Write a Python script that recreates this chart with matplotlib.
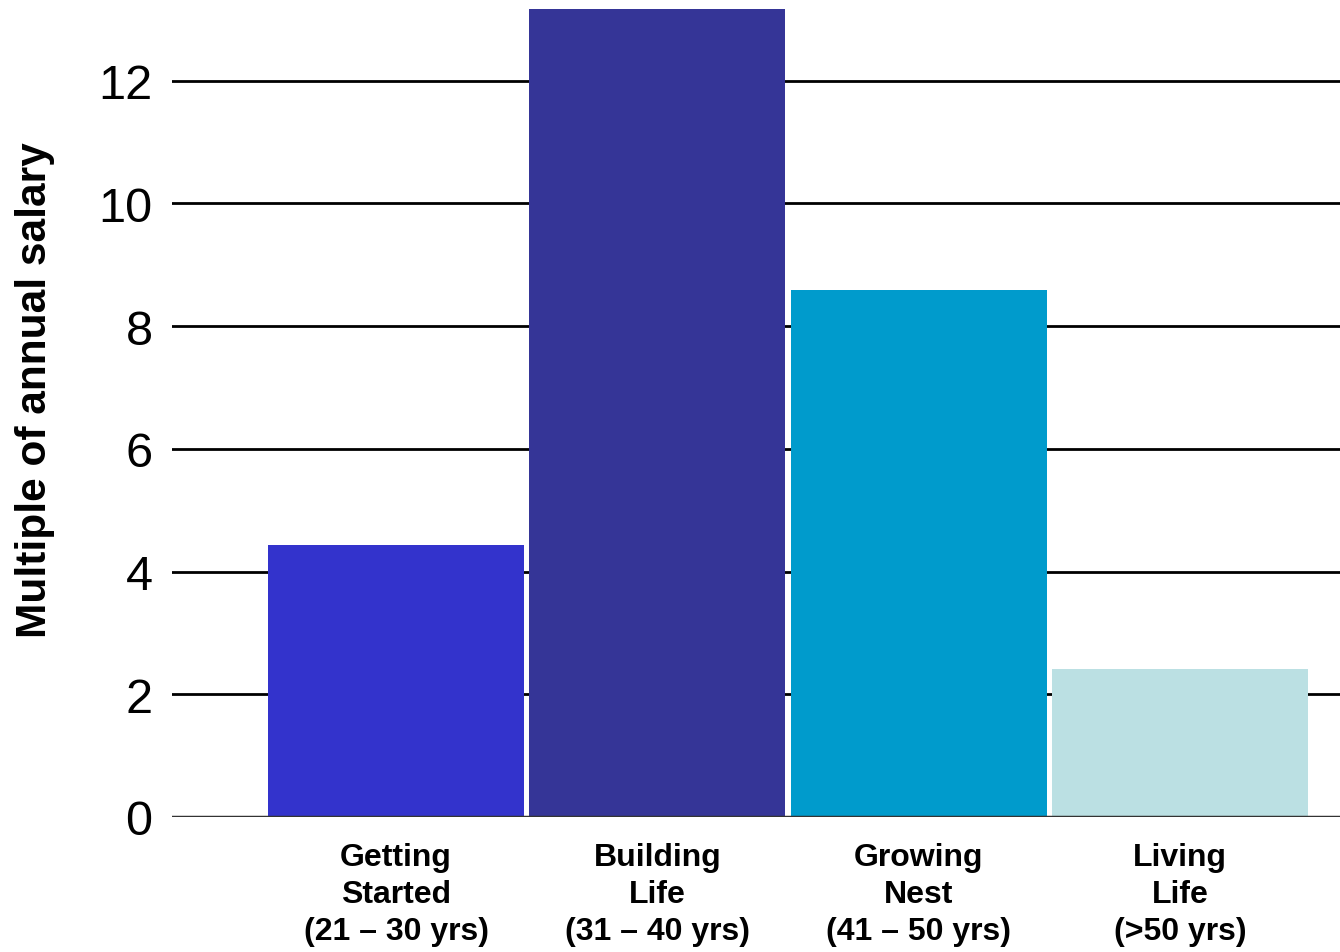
import matplotlib
matplotlib.use("Agg")
import matplotlib.pyplot as plt

plt.rcParams['font.family'] = ['Liberation Sans', 'DejaVu Sans']

etapas = ["Getting\nStarted\n(21 – 30 yrs)", "Building\nLife\n(31 – 40 yrs)",
          "Growing\nNest\n(41 – 50 yrs)", "Living\nLife\n(>50 yrs)"]
multiplo = [4.43, 13.2, 8.59, 2.41]
colores = ["#3333CC", "#353597", "#009BCC", "#BBE0E3"]
yticks = [0, 2, 4, 6, 8, 10, 12]

fig = plt.figure(figsize=(13.4, 9.53), dpi=100)
ax = fig.add_axes([0.1284, 0.1417, 0.8716, 0.8478])

x = list(range(len(etapas)))
ax.bar(x, multiplo, width=0.98, color=colores, zorder=2)

for t in yticks[1:]:
    ax.axhline(t, color="black", lw=2, zorder=1)
ax.axhline(0, color="#333333", lw=2.5, zorder=3)

ax.set_xlim(-0.857, 3.612)
ax.set_ylim(0, 13.17)
ax.set_yticks(yticks)
ax.set_yticklabels([str(t) for t in yticks], fontsize=35)
ax.set_xticks(x)
ax.set_xticklabels(etapas, fontsize=23, fontweight="bold", linespacing=1.3)
ax.tick_params(axis="both", length=0)
ax.tick_params(axis="y", pad=14)
ax.tick_params(axis="x", pad=18)
for s in ax.spines.values():
    s.set_visible(False)

ax.set_ylabel("Multiple of annual salary", fontsize=30.5, fontweight="bold")
ax.yaxis.set_label_coords(-0.1, 0.53)

fig.savefig("out.png", dpi=100)
